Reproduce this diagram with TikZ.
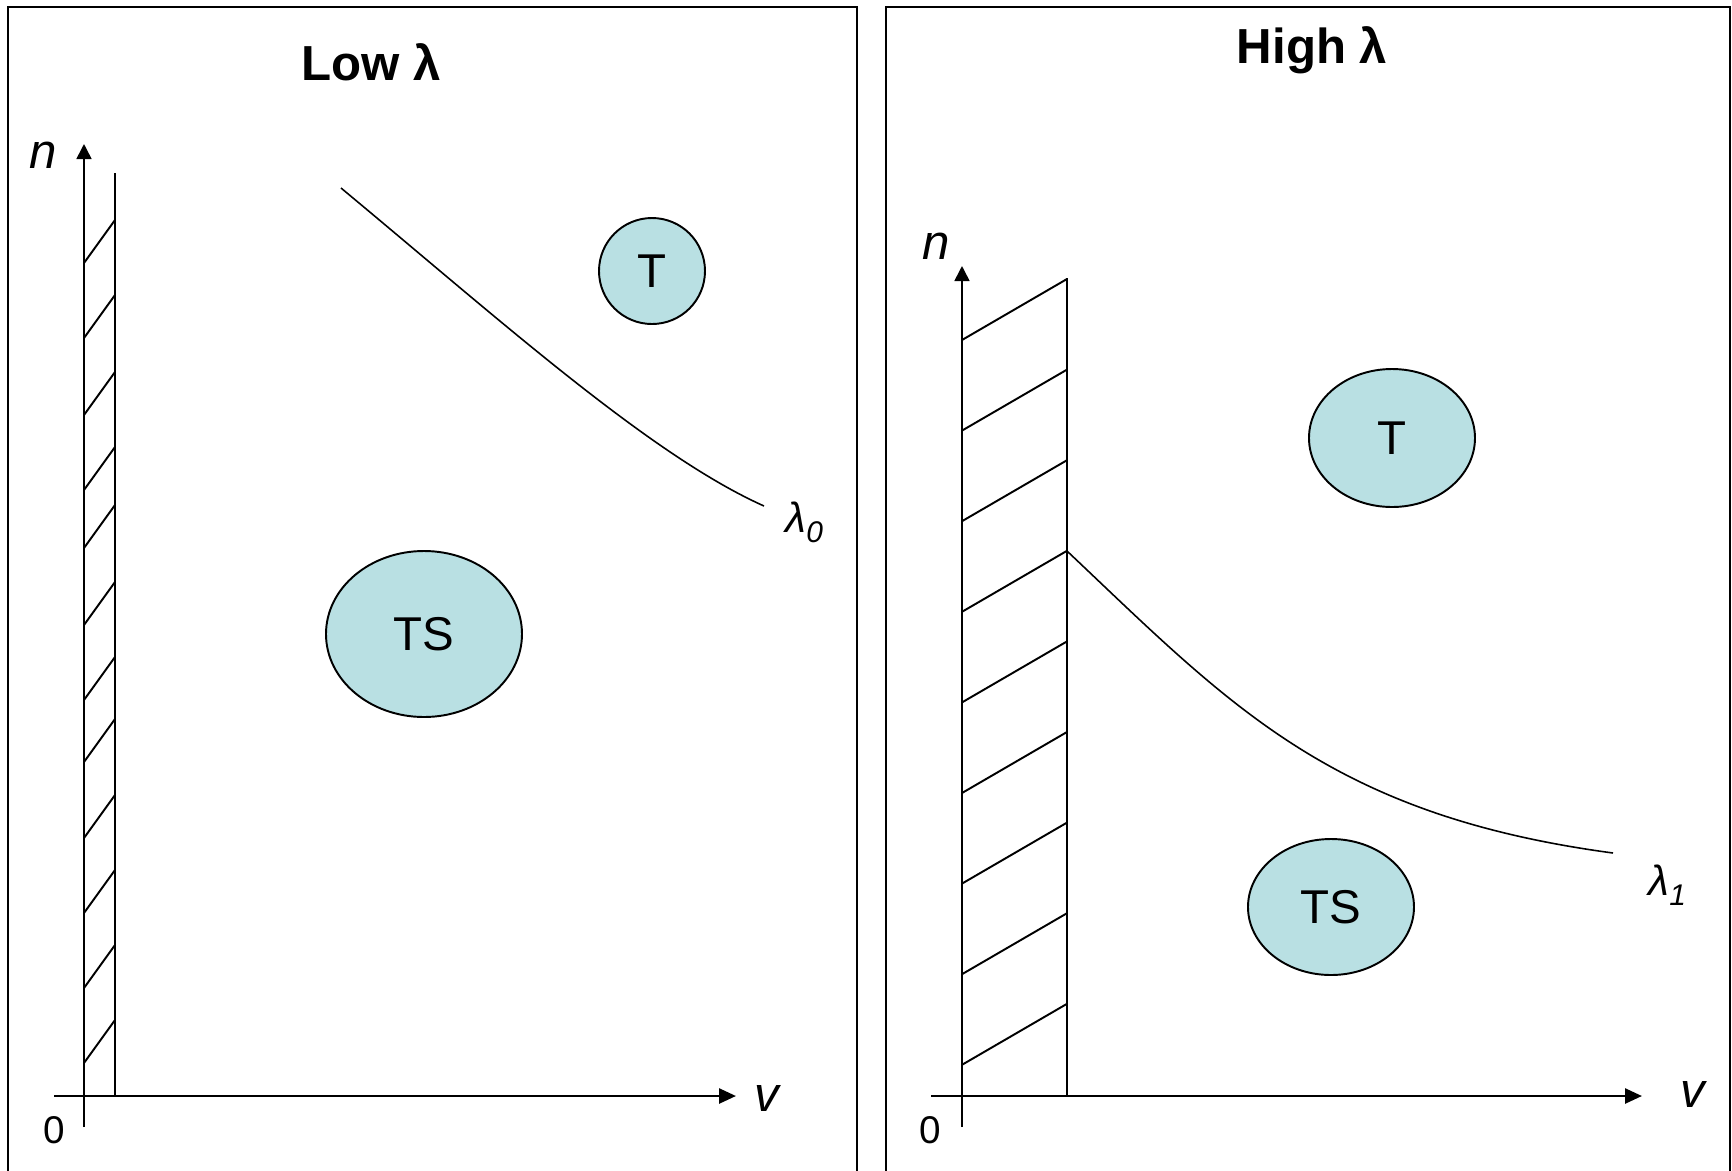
\documentclass[tikz,border=0pt]{standalone}
\usepackage{fontspec}
\setmainfont{Liberation Sans}
\usepackage{tikz}
\usepackage{xcolor}
\usetikzlibrary{shapes.geometric, arrows.meta, positioning, calc}
\definecolor{Pale_Teal}{HTML}{B9E0E3}
\newcommand{\lamsub}[1]{\raisebox{-1mm}{\fontsize{8.5}{10}\selectfont #1}}

\begin{document}
\begin{tikzpicture}[x=0.1mm, y=-0.1mm,
    panel/.style={draw=black, line width=0.6pt},
    vaxis/.style={line width=0.75pt, -{Triangle[length=1.7mm, width=1.5mm]}},
    naxis/.style={line width=0.45pt, -{Triangle[length=1.5mm, width=1.5mm]}},
    wall/.style={line width=0.55pt},
    boundary/.style={line width=0.45pt},
    region/.style={ellipse, draw=black, line width=0.55pt, fill=Pale_Teal, inner sep=0pt, font=\fontsize{13.5}{16}\selectfont},
    paneltitle/.style={font=\fontsize{14}{16}\selectfont\bfseries, inner sep=0pt, anchor=base},
    axlabel/.style={font=\fontsize{14}{16}\selectfont\itshape, inner sep=0pt, anchor=base},
    origin/.style={font=\fontsize{11}{13}\selectfont, inner sep=0pt, anchor=base},
    lamlabel/.style={font=\fontsize{12}{14}\selectfont\itshape, inner sep=0pt, anchor=base west}]
    \useasboundingbox (0,0) rectangle (1732,1170);

    % Low lambda panel
    \draw[panel] (8,7) rectangle (857,1185);
    \node[paneltitle] (lowtitle) at (371,80) {Low λ};

    % axes
    \coordinate (vstartA) at (54,1096);
    \coordinate (vendA) at (736,1096);
    \coordinate (nstartA) at (84,1127);
    \coordinate (nendA) at (84,144);
    \draw[naxis] (nstartA) -- (nendA);
    \draw[vaxis] (vstartA) -- (vendA);
    \node[axlabel] (nA) at (43,168) {n};
    \node[axlabel] (vA) at (767,1111) {v};
    \node[origin] (zeroA) at (54,1143) {0};

    % hatched strip
    \coordinate (walltopA) at (115,173);
    \coordinate (wallbotA) at (115,1096);
    \draw[wall] (walltopA) -- (wallbotA);
    \foreach \yl in {263,338,415,490,548,625,700,762,838,913,988,1063}
        \draw[wall] (84,\yl) -- (115,\yl-43);

    % lambda_0 line
    \coordinate (lamstartA) at (341,188);
    \coordinate (lamendA) at (764,506);
    \draw[boundary] (lamstartA) .. controls (500,320) and (650,455) .. (lamendA);
    \node[lamlabel] (lamA) at (785,532) {λ\lamsub{0}};

    % regions
    \node[region, minimum width=10.6mm, minimum height=10.6mm] (tA) at (652,271) {T};
    \node[region, minimum width=19.6mm, minimum height=16.6mm] (tsA) at (424,634) {TS};

    % High lambda panel
    \draw[panel] (886,7) rectangle (1730,1185);
    \node[paneltitle] (hightitle) at (1312,63) {High λ};

    % axes
    \coordinate (vstartB) at (931,1096);
    \coordinate (vendB) at (1642,1096);
    \coordinate (nstartB) at (962,1127);
    \coordinate (nendB) at (962,266);
    \draw[naxis] (nstartB) -- (nendB);
    \draw[vaxis] (vstartB) -- (vendB);
    \node[axlabel] (nB) at (936,259) {n};
    \node[axlabel] (vB) at (1693,1107) {v};
    \node[origin] (zeroB) at (930,1143) {0};

    % hatched strip
    \coordinate (walltopB) at (1067,278);
    \coordinate (wallbotB) at (1067,1096);
    \draw[wall] (walltopB) -- (wallbotB);
    \foreach \i in {0,...,8}
        \draw[wall] (962,{340+90.6*\i}) -- (1067,{279+90.6*\i});

    % lambda_1 line
    \coordinate (lamstartB) at (1067,551);
    \coordinate (lamendB) at (1613,853);
    \draw[boundary] (lamstartB) .. controls (1230,705) and (1330,815) .. (lamendB);
    \node[lamlabel] (lamB) at (1648,895) {λ\lamsub{1}};

    % regions
    \node[region, minimum width=16.6mm, minimum height=13.8mm] (tB) at (1392,438) {T};
    \node[region, minimum width=16.6mm, minimum height=13.6mm] (tsB) at (1331,907) {TS};
\end{tikzpicture}
\end{document}
